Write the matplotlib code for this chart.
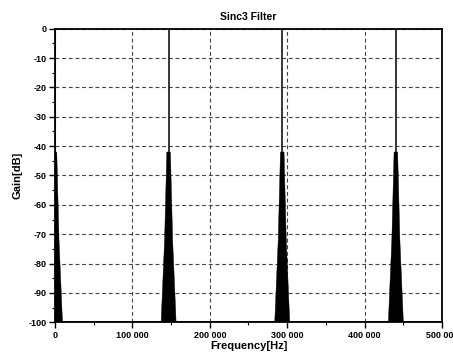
import matplotlib
matplotlib.use("Agg")
import matplotlib.pyplot as plt
from matplotlib.ticker import MultipleLocator, FuncFormatter
import numpy as np

# ---- data ----
peak_freqs_hz = [0, 146800, 293600, 440400]          # alias peaks of the Sinc3 response
lobe_offsets_hz = [-9700, -5200, -2300, 2300, 5200, 9700]  # envelope of the dense side-lobe region
lobe_gain_db = [-100, -72, -42, -42, -72, -100]
spike_gain_db = [-42, 0]                               # narrow main spike
floor_gain_db = -100
x_ticks = [0, 100000, 200000, 300000, 400000, 500000]
y_ticks = [0, -10, -20, -30, -40, -50, -60, -70, -80, -90, -100]

plt.rcParams['font.family'] = ['Liberation Sans', 'DejaVu Sans']
plt.rcParams['font.weight'] = 'bold'

fig = plt.figure(figsize=(4.53, 3.54), dpi=100)
ax = fig.add_axes([0.1214, 0.0895, 0.8543, 0.8295])

for f0 in peak_freqs_hz:
    xs = [f0 + o for o in lobe_offsets_hz]
    ax.fill(xs, lobe_gain_db, color='black', lw=0.3, zorder=3)
    ax.plot([f0, f0], spike_gain_db, color='black', lw=1.1, zorder=3)
ax.plot([x_ticks[0], x_ticks[-1]], [floor_gain_db, floor_gain_db], color='black', lw=1.2, zorder=3)

ax.set_xlim(x_ticks[0], x_ticks[-1])
ax.set_ylim(y_ticks[-1], y_ticks[0])
ax.set_xticks(x_ticks)
ax.set_yticks(y_ticks)
ax.xaxis.set_minor_locator(MultipleLocator(50000))
ax.yaxis.set_minor_locator(MultipleLocator(5))
ax.xaxis.set_major_formatter(FuncFormatter(lambda v, p: f"{int(round(v)):,}".replace(",", " ")))
ax.yaxis.set_major_formatter(FuncFormatter(lambda v, p: f"{int(round(v))}"))

ax.tick_params(which='major', direction='out', length=4, width=1.0, labelsize=6.5, pad=2)
ax.tick_params(which='minor', direction='out', length=2, width=0.8)
for lbl in ax.get_xticklabels() + ax.get_yticklabels():
    lbl.set_fontweight('bold')

ax.grid(True, which='major', color='#444444', linestyle=(0, (3.5, 2.5)), lw=0.8, zorder=1)
for s in ax.spines.values():
    s.set_linewidth(1.3)

ax.set_title('Sinc3 Filter', fontsize=7.5, fontweight='bold', pad=6)
ax.set_xlabel('Frequency[Hz]', fontsize=8, fontweight='bold', labelpad=1)
ax.set_ylabel('Gain[dB]', fontsize=8, fontweight='bold', labelpad=4)

fig.savefig('out.png', dpi=100)
